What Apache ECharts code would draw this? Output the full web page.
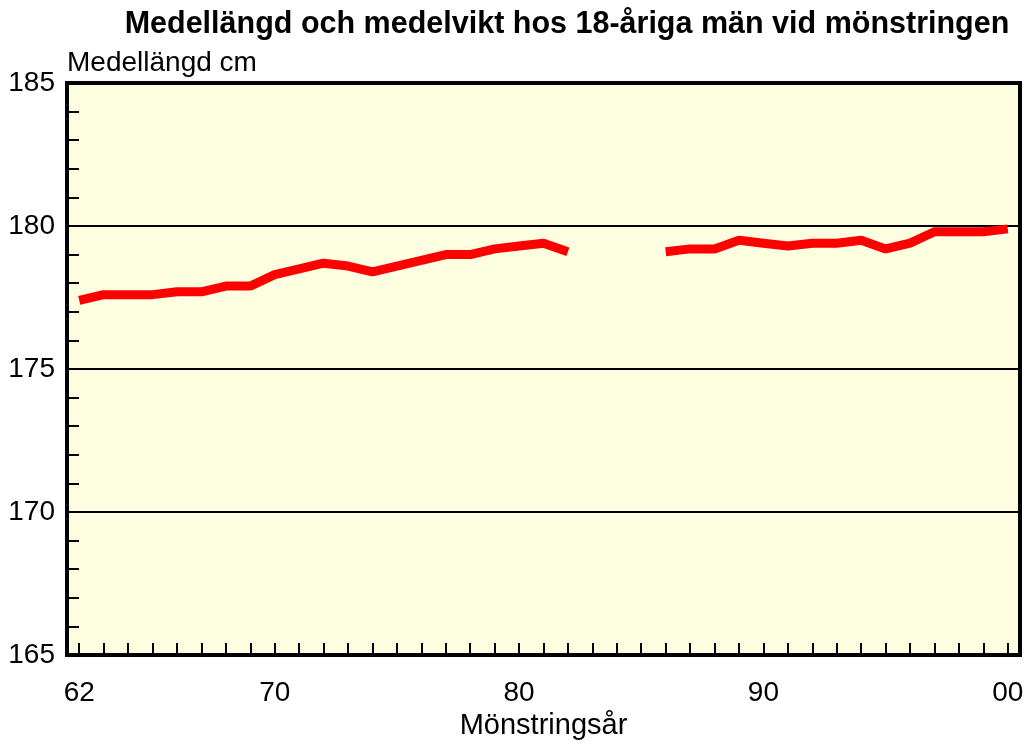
<!DOCTYPE html>
<html>
<head>
<meta charset="utf-8">
<script src="https://cdn.jsdelivr.net/npm/echarts@6/dist/echarts.min.js"></script>
<style>
  html, body { margin: 0; padding: 0; background: #fff; }
  #main { width: 1028px; height: 749px; }
</style>
</head>
<body>
<div id="main"></div>
<script>
// år 1962-2000, etiketter bara på 62, 70, 80, 90, 00
var years = [];
for (var y = 1962; y <= 2000; y++) years.push(String(y));
var labelYears = ['1962', '1970', '1980', '1990', '2000'];

// medellängd cm (1983-1985 saknas)
var heights = [
    177.4, 177.6, 177.6, 177.6, 177.7, 177.7, 177.9, 177.9, 178.3, 178.5,
    178.7, 178.6, 178.4, 178.6, 178.8, 179.0, 179.0, 179.2, 179.3, 179.4,
    179.1, null, null, null, 179.1, 179.2, 179.2, 179.5, 179.4, 179.3,
    179.4, 179.4, 179.5, 179.2, 179.4, 179.8, 179.8, 179.8, 179.9
];

var chart = echarts.init(document.getElementById('main'));
var font = 'Liberation Sans, Arial, sans-serif';

var option = {
    animation: false,
    title: {
        text: 'Medellängd och medelvikt hos 18-åriga män vid mönstringen',
        left: 562,
        textAlign: 'center',
        top: 4,
        textStyle: { fontFamily: font, fontSize: 30.5, fontWeight: 'bold', color: '#000' }
    },
    grid: {
        left: 67, right: 8, top: 83, bottom: 94,
        show: true,
        backgroundColor: '#FEFEE0',
        borderColor: '#000',
        borderWidth: 4
    },
    xAxis: {
        type: 'category',
        data: years,
        boundaryGap: true,
        name: 'Mönstringsår',
        nameLocation: 'middle',
        nameGap: 56,
        nameTextStyle: { fontFamily: font, fontSize: 29, color: '#000' },
        axisLine: { lineStyle: { color: '#000', width: 4 } },
        axisTick: {
            show: true, inside: true, length: 12, alignWithLabel: true, interval: 0,
            lineStyle: { color: '#000', width: 2 }
        },
        axisLabel: {
            interval: function (i, v) { return labelYears.indexOf(v) >= 0; },
            formatter: function (v) { return v.slice(2); },
            fontFamily: font, fontSize: 28, color: '#000', margin: 24
        },
        splitLine: { show: false }
    },
    yAxis: {
        type: 'value',
        min: 165, max: 185, interval: 5,
        name: 'Medellängd cm',
        nameLocation: 'end',
        nameGap: 6,
        nameTextStyle: { fontFamily: font, fontSize: 28, color: '#000', align: 'left' },
        axisLine: { show: true, lineStyle: { color: '#000', width: 4 } },
        axisTick: { show: true, inside: true, length: 12, lineStyle: { color: '#000', width: 2 } },
        minorTick: { show: true, splitNumber: 5, length: 12, lineStyle: { color: '#000', width: 2 } },
        axisLabel: { fontFamily: font, fontSize: 28, color: '#000', margin: 12 },
        splitLine: { show: true, lineStyle: { color: '#000', width: 2 } }
    },
    series: [{
        type: 'line',
        data: heights,
        connectNulls: false,
        symbol: 'none',
        lineStyle: { color: '#FF0000', width: 9 }
    }]
};
chart.setOption(option);
</script>
</body>
</html>
